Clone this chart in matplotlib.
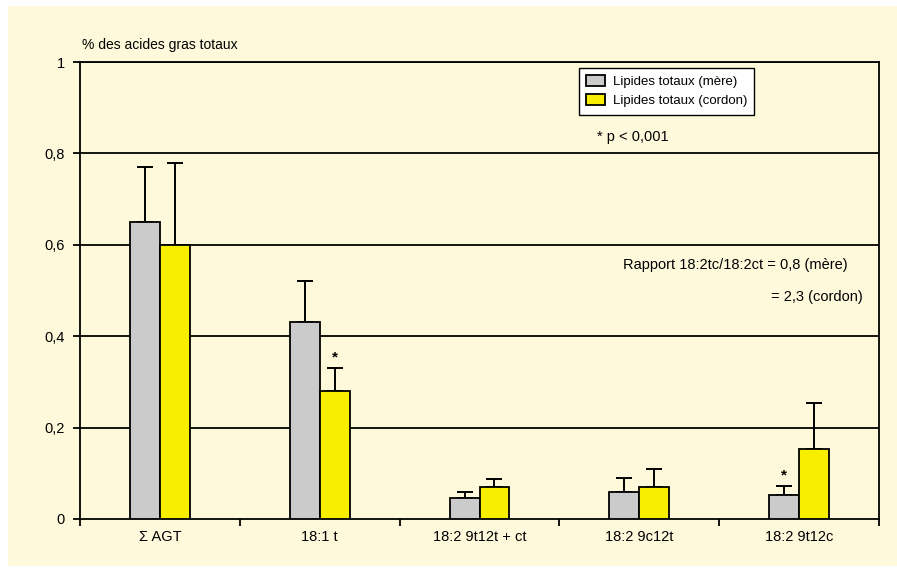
import matplotlib
matplotlib.use("Agg")
import matplotlib.pyplot as plt
from matplotlib.patches import Rectangle
import numpy as np

plt.rcParams['font.family'] = ['Liberation Sans', 'DejaVu Sans']

categories = ["Σ AGT", "18:1 t", "18:2 9t12t + ct", "18:2 9c12t", "18:2 9t12c"]
mere = [0.65, 0.43, 0.047, 0.06, 0.052]
mere_sd = [0.12, 0.09, 0.013, 0.03, 0.021]
cordon = [0.60, 0.28, 0.069, 0.07, 0.153]
cordon_sd = [0.18, 0.05, 0.018, 0.04, 0.10]
# significance markers: (category index, series) -> drawn above the error bar
signif = [(1, "cordon"), (4, "mere")]
yticks = [0, 0.2, 0.4, 0.6, 0.8, 1]
ytick_labels = ["0", "0,2", "0,4", "0,6", "0,8", "1"]
series_labels = ["Lipides totaux (mère)", "Lipides totaux (cordon)"]

bg = "#FFF9DC"
gray = "#CBCBCB"
yellow = "#F8EE00"

fig = plt.figure(figsize=(8.97, 5.69), dpi=100)
fig.patch.set_facecolor("white")
fig.patches.append(Rectangle((8 / 897, 3 / 569), 889 / 897, 560 / 569,
                             transform=fig.transFigure, facecolor=bg,
                             edgecolor="none", zorder=-10))

ax = fig.add_axes([80 / 897, 1 - 519 / 569, 799 / 897, 457 / 569])
ax.set_facecolor(bg)

x = np.arange(len(categories))
w = 0.1875

for y in yticks[1:]:
    ax.axhline(y, color="black", lw=1.3, zorder=1)

ax.bar(x - w / 2, mere, w, color=gray, edgecolor="black", lw=1.3, zorder=3,
       label=series_labels[0])
ax.bar(x + w / 2, cordon, w, color=yellow, edgecolor="black", lw=1.3, zorder=3,
       label=series_labels[1])

ax.errorbar(x - w / 2, mere, yerr=[np.zeros(len(mere)), mere_sd], fmt="none",
            ecolor="black", elinewidth=1.4, capsize=5.5, capthick=1.4, zorder=2)
ax.errorbar(x + w / 2, cordon, yerr=[np.zeros(len(cordon)), cordon_sd], fmt="none",
            ecolor="black", elinewidth=1.4, capsize=5.5, capthick=1.4, zorder=2)

for i, s in signif:
    if s == "mere":
        xi, top = x[i] - w / 2, mere[i] + mere_sd[i]
    else:
        xi, top = x[i] + w / 2, cordon[i] + cordon_sd[i]
    ax.text(xi, top + 0.008, "*", ha="center", va="bottom", fontsize=11,
            fontweight="bold")

ax.set_xlim(-0.5, len(categories) - 0.5)
ax.set_ylim(0, 1)
ax.set_yticks(yticks)
ax.set_yticklabels(ytick_labels, fontsize=10.5)
ax.set_xticks(np.arange(len(categories) + 1) - 0.5)
ax.set_xticklabels([])
ax.set_xticks(x, minor=True)
ax.set_xticklabels(categories, minor=True, fontsize=10.5)
ax.tick_params(axis="x", which="minor", length=0, pad=8)
ax.tick_params(axis="x", which="major", length=5, width=1.3, direction="out")
ax.tick_params(axis="y", length=5, width=1.3, direction="out", pad=6)
for sp in ax.spines.values():
    sp.set_linewidth(1.3)

fig.text(82 / 897, 1 - 45 / 569, "% des acides gras totaux", fontsize=10,
         va="center", ha="left")

leg = ax.legend(loc="upper left", bbox_to_anchor=((579 - 80) / 799, 1 - 6 / 457),
                borderaxespad=0, fontsize=9.5, frameon=True, fancybox=False,
                framealpha=1, edgecolor="black", handlelength=1.4,
                handleheight=0.9, borderpad=0.55, labelspacing=0.45,
                handletextpad=0.6)
leg.get_frame().set_linewidth(1.0)

ax.text((597 - 80) / 799, (519 - 137) / 457, "* p < 0,001", transform=ax.transAxes,
        fontsize=10.5, va="center", ha="left")
ax.text((848 - 80) / 799, (519 - 265) / 457, "Rapport 18:2tc/18:2ct = 0,8 (mère)",
        transform=ax.transAxes, fontsize=10.5, va="center", ha="right")
ax.text((863 - 80) / 799, (519 - 297) / 457, "= 2,3 (cordon)",
        transform=ax.transAxes, fontsize=10.5, va="center", ha="right")

fig.savefig("out.png", dpi=100, facecolor=fig.get_facecolor())
